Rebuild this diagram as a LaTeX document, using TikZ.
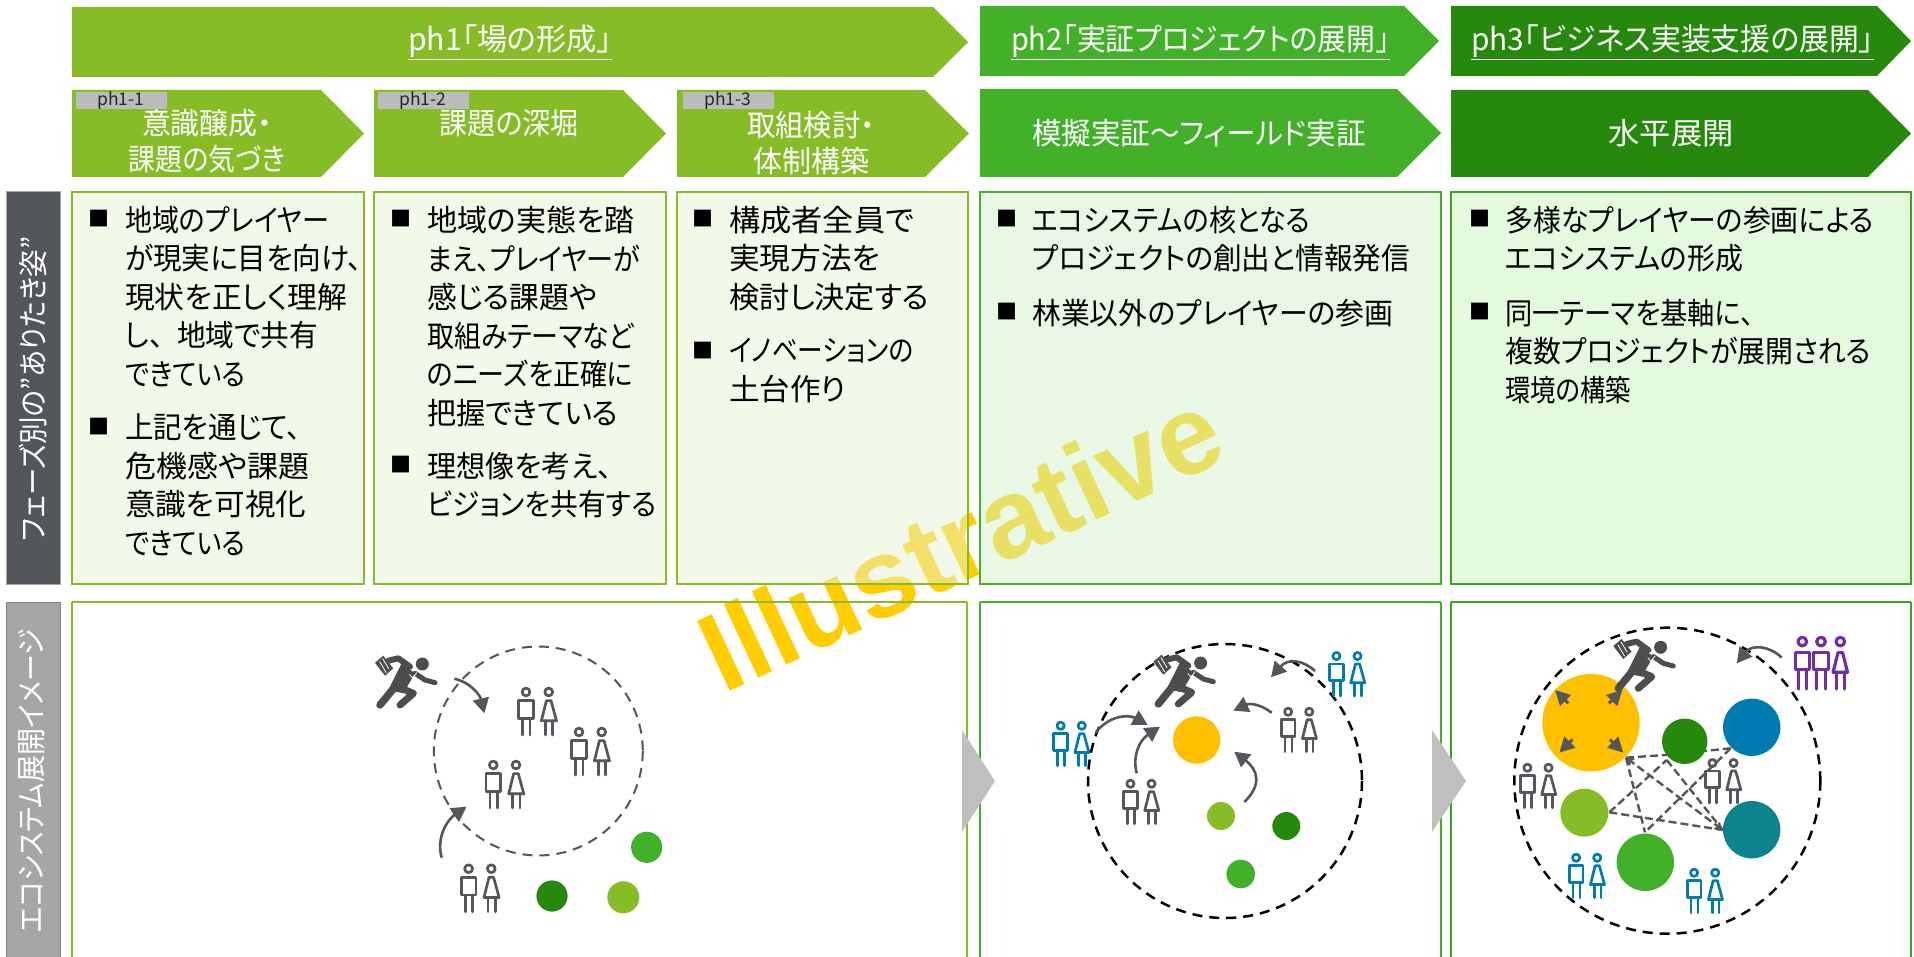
\documentclass[tikz,border=0pt]{standalone}
\usepackage{graphicx}
\usepackage{fontspec}
\setmainfont[RawFeature=+palt]{Noto Sans CJK JP}
\newfontfamily\wmfont{Liberation Sans}
\usetikzlibrary{arrows.meta}
\definecolor{phA}{HTML}{86BC25}
\definecolor{phB}{HTML}{43B02A}
\definecolor{phC}{HTML}{26890D}
\definecolor{tintA}{HTML}{E7F4D3}
\definecolor{tintB}{HTML}{D2F2CA}
\definecolor{tintC}{HTML}{C9F5C0}
\definecolor{dgray}{HTML}{53565A}
\definecolor{run}{HTML}{4D4D4D}
\definecolor{amber}{HTML}{FFC000}
\definecolor{wm}{HTML}{FFCD00}
\definecolor{blueP}{HTML}{007CB0}
\definecolor{tealP}{HTML}{0D8390}
\definecolor{purpleP}{HTML}{6F2DA8}
\definecolor{labelgray}{HTML}{BBBBBC}
\newcommand{\lw}[2]{\resizebox{#1pt}{\height}{#2}}
\tikzset{
  head/.style={font=\fontsize{30.5}{36}\selectfont,text=white,inner sep=0pt},
  sub/.style={font=\fontsize{30}{36}\selectfont,text=white,inner sep=0pt,align=center},
  tag/.style={fill=labelgray,minimum width=91pt,minimum height=17pt,inner sep=0pt,font=\fontsize{17.5}{20}\selectfont,text=black!85},
  body/.style={font=\fontsize{30}{38.5}\selectfont,align=left,anchor=north west,inner sep=0pt,text=black},
  bull/.style={font=\fontsize{21}{21}\selectfont,inner sep=0pt,text=black},
  side/.style={font=\fontsize{30}{32}\selectfont,text=white,rotate=90,inner sep=0pt},
  flow/.style={draw=dgray,line width=2.6pt,-{Triangle[length=15pt,width=16pt]}},
  tiny/.style={draw=dgray,line width=3pt,-{Triangle[length=15pt,width=15pt]}},
  net/.style={draw=dgray,line width=2.4pt,dash pattern=on 8pt off 4pt},
  ringA/.style={draw=dgray,line width=2pt,dash pattern=on 10pt off 7pt},
  ringB/.style={draw=black,line width=2.5pt,dash pattern=on 10pt off 7pt}
}
\newcommand{\homeplate}[6]{\fill[#6] (#1,#4)--(#3,#4)--(#2,{(#4+#5)/2})--(#3,#5)--(#1,#5)--cycle;}
\newcommand{\pairicon}[4]{%
\begin{scope}[shift={(#1,#2)},scale=#3,line width=2.7pt,draw=#4,line cap=round,line join=round]
\draw (-11.7,-19.3) circle (3.9);
\draw (-19,-10.7) rectangle (-4.3,7);
\draw (-15,7)--(-15,23.7) (-7.7,7)--(-7.7,23.7);
\draw (11,-19.3) circle (3.9);
\draw (8.7,-10.7)--(13.3,-10.7)--(18.8,9.5)--(3.7,9.5)--cycle;
\draw (7.7,9.5)--(7.7,23.7) (15,9.5)--(15,23.7);
\end{scope}}
\newcommand{\runner}[2]{%
\begin{scope}[shift={(#1,#2)},draw=run,fill=run,line cap=round,line join=round]
\fill (15.6,-17.7) circle (6.5);
\fill (-5,-18.4)--(8.3,-8.4)--(-3.4,11.6)--(-18.4,8.3)--cycle;
\draw[line width=7.5pt] (-11.7,5)--(-26.7,23.3);
\draw[line width=7pt] (-5,6.7)--(6.7,11.7)--(-6.7,23.3);
\draw[line width=6pt] (-18.4,-21)--(-8.4,-23.4)--(3.3,-15);
\draw[line width=5pt] (8.3,-8.4)--(18.3,-1.7)--(28.3,1);
\fill (-31.7,-19)--(-23.4,-26)--(-13.4,-13.4)--(-21.7,-6)--cycle;
\draw[white,line width=.8pt] (-27,-20)--(-20.5,-9) (-24,-23)--(-18,-13) (3,-7)--(6,-3.5)--(10,-9);
\end{scope}}
\newcommand{\trio}[2]{%
\begin{scope}[shift={(#1,#2)},line width=3.2pt,draw=purpleP,line cap=round,line join=round]
\foreach \mx in {-18.7,0}{
\draw (\mx,-21.7) circle (4.3);
\draw (\mx-7.2,-10.7) rectangle (\mx+7.2,6);
\draw (\mx-4.2,6)--(\mx-4.2,25.7) (\mx+4.2,6)--(\mx+4.2,25.7);}
\draw (19.3,-21.7) circle (4.3);
\draw (17,-10.7)--(21.6,-10.7)--(26.5,9)--(12,9)--cycle;
\draw (15.3,9)--(15.3,25.7) (23.3,9)--(23.3,25.7);
\end{scope}}
\newcommand{\bulpara}[5]{%
\node[bull] (#1b) at (#2,#4) {■};
\node[body] (#1t) at (#3,#4-13) {#5};}
\begin{document}
\begin{tikzpicture}[x=1pt,y=-1pt]
\useasboundingbox (0,0) rectangle (1914,957);
% phase arrows
\homeplate{72}{968}{933}{7}{77}{phA}
\homeplate{980}{1439}{1404}{6}{76}{phB}
\homeplate{1451}{1911}{1877}{6}{76}{phC}
\node[head] (h1) at (510,42) {\lw{204}{\underline{ph1「場の形成」}}};
\node[head] (h2) at (1200.5,42) {\lw{379}{\underline{ph2「実証プロジェクトの展開」}}};
\node[head] (h3) at (1672.5,42) {\lw{403}{\underline{ph3「ビジネス実装支援の展開」}}};
\homeplate{72}{364}{321}{90}{177}{phA}
\homeplate{374}{666}{623}{90}{177}{phA}
\homeplate{677}{969}{925}{90}{177}{phA}
\homeplate{980}{1441}{1397}{89}{177}{phB}
\homeplate{1451}{1911}{1868}{90}{177}{phC}
\node[tag] (t1) at (121,100.5) {ph1-1};
\node[tag] (t2) at (423,100.5) {ph1-2};
\node[tag] (t3) at (728,100.5) {ph1-3};
\node[sub] (s1) at (207,141) {\lw{130}{意識醸成・}\\\lw{156}{課題の気づき}};
\node[sub] (s2) at (509,123) {\lw{139}{課題の深堀}};
\node[sub] (s3) at (811,143) {\lw{128}{取組検討・}\\\lw{116}{体制構築}};
\node[sub] (s4) at (1199,133) {\lw{333}{模擬実証～フィールド実証}};
\node[sub] (s5) at (1671,133) {\lw{125}{水平展開}};
% side labels
\fill[dgray] (6,192) rectangle (60,584);
\draw[gray!70,line width=1pt] (6,192) rectangle (60,584);
\fill[gray!70] (6,602) rectangle (60,957);
\draw[gray,line width=1pt] (6,602) rectangle (60,958);
\node[side] (l1) at (33,389) {\lw{304}{フェーズ別の”ありたき姿”}};
\node[side] (l2) at (32,781) {\lw{304}{エコシステム展開イメージ}};
% lower panels
\fill[white] (72,602) rectangle (967,957);
\node[font=\wmfont\bfseries\fontsize{112}{114}\selectfont,text=wm,rotate=25,inner sep=0pt] (wmark) at (960,540) {Illustrative};
\draw[phA,line width=1.8pt] (72,602)--(967,602) (72,602)--(72,958) (967,602)--(967,958);
\draw[phB,line width=1.8pt] (980,602)--(1441,602) (980,602)--(980,958) (1441,602)--(1441,958);
\draw[phB!70!phC,line width=1.8pt] (1451,602)--(1911,602) (1451,602)--(1451,958) (1911,602)--(1911,958);
% description boxes
\path[fill=tintA,fill opacity=.5,draw=phA,line width=1.8pt] (72,192) rectangle (364,584);
\path[fill=tintA,fill opacity=.5,draw=phA,line width=1.8pt] (374,192) rectangle (666,584);
\path[fill=tintA,fill opacity=.5,draw=phA,line width=1.8pt] (677,192) rectangle (968,584);
\path[fill=tintB,fill opacity=.5,draw=phB,line width=1.8pt] (980,192) rectangle (1441,584);
\path[fill=tintC,fill opacity=.5,draw=phB!70!phC,line width=1.8pt] (1451,192) rectangle (1911,584);
\bulpara{a}{99}{125}{219}{\lw{204}{地域のプレイヤー}\\\lw{237}{が現実に目を向け、}\\\lw{222}{現状を正しく理解}\\\lw{193}{し、\hspace{14pt}地域で共有}\\\lw{120}{できている}}
\bulpara{b}{99}{125}{427}{\lw{176}{上記を通じて、}\\\lw{184}{危機感や課題}\\\lw{181}{意識を可視化}\\\lw{120}{できている}}
\bulpara{c}{401}{427}{219}{\lw{207}{地域の実態を踏}\\\lw{213}{まえ、プレイヤーが}\\\lw{170}{感じる課題や}\\\lw{207}{取組みテーマなど}\\\lw{206}{のニーズを正確に}\\\lw{191}{把握できている}}
\bulpara{d}{401}{427}{465}{\lw{185}{理想像を考え、}\\\lw{229}{ビジョンを共有する}}
\bulpara{e}{703}{729}{219}{\lw{185}{構成者全員で}\\\lw{151}{実現方法を}\\\lw{200}{検討し決定する}}
\bulpara{f}{703}{729}{351}{\lw{184}{イノベーションの}\\\lw{117}{土台作り}}
\bulpara{g}{1007}{1032}{219}{\lw{278}{エコシステムの核となる}\\\lw{378}{プロジェクトの創出と情報発信}}
\bulpara{h}{1007}{1032}{312}{\lw{361}{林業以外のプレイヤーの参画}}
\bulpara{i}{1480}{1505}{219}{\lw{369}{多様なプレイヤーの参画による}\\\lw{238}{エコシステムの形成}}
\bulpara{j}{1480}{1505}{312}{\lw{249}{同一テーマを基軸に、}\\\lw{366}{複数プロジェクトが展開される}\\\lw{126}{環境の構築}}
% panel 1
\draw[ringA] (538.3,751) circle (104.5);
\fill[phB] (646.7,847.3) circle (15.6);
\fill[phC] (552,896) circle (15.6);
\fill[phA] (623.3,897.3) circle (16);
\pairicon{537.7}{711.3}{1}{dgray}
\pairicon{590.7}{751.3}{1}{dgray}
\pairicon{505}{784.3}{1}{dgray}
\pairicon{480.3}{888}{1}{dgray}
\runner{406.7}{681.7}
\coordinate (p1a) at (454.3,678.7); \coordinate (p1b) at (484.3,713.3);
\coordinate (p1c) at (441.7,857.7); \coordinate (p1d) at (466.7,806.7);
\draw[flow] (p1a) .. controls (470,682) and (480,695) .. (p1b);
\draw[flow] (p1c) .. controls (436,838) and (447,820) .. (p1d);
\fill[gray!50] (962,730)--(995,781)--(962,832)--cycle;
\fill[gray!50] (1432,730)--(1466,781)--(1432,832)--cycle;
% panel 2
\draw[ringB] (1225,781) circle (137);
\fill[amber] (1196.7,740) circle (23.7);
\fill[phA] (1221,816) circle (14);
\fill[phC] (1286.3,826) circle (14);
\fill[phB] (1240.7,874) circle (14.3);
\pairicon{1141.3}{801.7}{.93}{dgray}
\pairicon{1299}{729.7}{.93}{dgray}
\pairicon{1071.5}{743.7}{.93}{blueP}
\pairicon{1347.3}{674}{.93}{blueP}
\runner{1185}{680.7}
\coordinate (p2a) at (1095.7,732.7); \coordinate (p2b) at (1147.7,725);
\coordinate (p2c) at (1136.7,773.3); \coordinate (p2d) at (1160,726.7);
\coordinate (p2e) at (1271.7,712.7); \coordinate (p2f) at (1233.3,710.7);
\coordinate (p2g) at (1244.3,802); \coordinate (p2h) at (1234.3,751.7);
\coordinate (p2i) at (1315,671); \coordinate (p2j) at (1271,677.3);
\draw[flow] (p2a) .. controls (1108,716) and (1128,714) .. (p2b);
\draw[flow] (p2c) .. controls (1132,755) and (1140,740) .. (p2d);
\draw[flow] (p2e) .. controls (1260,704) and (1250,703) .. (p2f);
\draw[flow] (p2g) .. controls (1262,785) and (1258,770) .. (p2h);
\draw[flow] (p2i) .. controls (1303,660) and (1288,658) .. (p2j);
% panel 3
\draw[ringB] (1667.3,780.7) circle (153);
\coordinate (na) at (1626,757.7); \coordinate (nb) at (1665,755);
\coordinate (nb2) at (1666.7,760); \coordinate (nc) at (1730.7,748.3);
\coordinate (nd) at (1722.7,830); \coordinate (ne) at (1609.3,812.3);
\coordinate (nf) at (1645,832.3);
\draw[net] (na)--(nb);
\draw[net,{To[length=8pt,width=9pt]}-{To[length=8pt,width=9pt]}] (na)--(nd);
\draw[net] (na)--(nf);
\draw[net] (ne)--(nb2);
\draw[net] (nb2)--(nd);
\draw[net] (nc)--(nb);
\draw[net] (nc)--(nf);
\draw[net] (ne)--(nd);
\fill[amber] (1591,722.7) circle (48.7);
\fill[phC] (1684.7,741.3) circle (22.7);
\fill[blueP] (1751.7,727.3) circle (28.7);
\fill[tealP] (1751.7,829.7) circle (28.7);
\fill[phA] (1584.3,812.7) circle (24);
\fill[phB] (1645.3,862.3) circle (28.7);
\coordinate (ya) at (1568.3,703.3); \coordinate (yb) at (1555,690);
\coordinate (yc) at (1609,703.3); \coordinate (yd) at (1622.3,690);
\coordinate (ye) at (1572.6,739.4); \coordinate (yf) at (1559.3,752.7);
\coordinate (yg) at (1610,739.4); \coordinate (yh) at (1623.3,752.7);
\draw[tiny] (ya)--(yb);
\draw[tiny] (yc)--(yd);
\draw[tiny] (ye)--(yf);
\draw[tiny] (yg)--(yh);
\pairicon{1538.3}{785.7}{.93}{dgray}
\pairicon{1723.3}{781}{.93}{dgray}
\pairicon{1587}{875.7}{.93}{blueP}
\pairicon{1705}{890.7}{.93}{blueP}
\trio{1821}{663.3}
\runner{1645}{665}
\coordinate (p3a) at (1781.7,657.7); \coordinate (p3b) at (1736.7,663.3);
\draw[flow] (p3a) .. controls (1770,646) and (1752,644) .. (p3b);
\end{tikzpicture}
\end{document}
